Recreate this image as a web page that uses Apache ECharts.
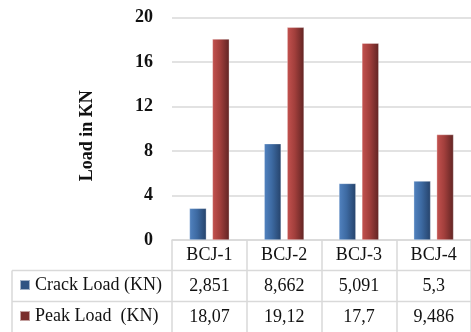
<!DOCTYPE html>
<html>
<head>
<meta charset="utf-8">
<script src="https://cdn.jsdelivr.net/npm/echarts@6/dist/echarts.min.js"></script>
<style>
  html, body { margin: 0; padding: 0; background: #fff; }
  #chart { width: 471px; height: 332px; }
</style>
</head>
<body>
<div id="chart"></div>
<script>
// Specimens and measured loads (KN)
const categories = ['BCJ-1', 'BCJ-2', 'BCJ-3', 'BCJ-4'];
const crackLoad = [2.851, 8.662, 5.091, 5.3];
const peakLoad = [18.07, 19.12, 17.7, 9.486];
const crackName = 'Crack Load (KN)';
const peakName = 'Peak Load  (KN)';
const yTicks = { min: 0, max: 20, interval: 4 };

// Decimal comma, as printed in the data table
const fmt = v => String(v).replace('.', ',');

const FONT = '"Liberation Serif", "Times New Roman", serif';
const LINE = '#d9d9d9';
const GRID = { left: 172, right: -10, top: 17.5, bottom: 92 };

function grad(c0, c1, c2) {
  return new echarts.graphic.LinearGradient(0, 0, 1, 0, [
    { offset: 0, color: c0 },
    { offset: 0.45, color: c1 },
    { offset: 1, color: c2 }
  ]);
}

const tableAxis = (data, offset) => ({
  type: 'category',
  position: 'bottom',
  gridIndex: 0,
  offset: offset,
  data: data,
  axisLine: { show: false },
  axisTick: { show: true, length: 31, lineStyle: { color: LINE, width: 1.5 } },
  axisLabel: {
    margin: 15.5, verticalAlign: 'middle',
    fontFamily: FONT, fontSize: 18, color: '#111'
  }
});

// one legend entry per table row
const legendRow = (name, color, top) => ({
  left: 19, top: top,
  itemWidth: 10, itemHeight: 10,
  itemTextGap: 5,
  icon: 'rect',
  padding: 0,
  textStyle: { fontFamily: FONT, fontSize: 18, color: '#111' },
  data: [{ name: name, itemStyle: { color: color } }]
});

const chart = echarts.init(document.getElementById('chart'), null, { renderer: 'canvas' });

const option = {
  backgroundColor: '#fff',
  animation: false,
  grid: GRID,
  legend: [
    legendRow(crackName, '#2f5383', 276),
    legendRow(peakName, '#7a2e2c', 307)
  ],
  xAxis: [
    {
      type: 'category',
      position: 'bottom',
      data: categories,
      axisLine: { show: true, lineStyle: { color: LINE, width: 1.5 } },
      axisTick: { show: true, length: 30, lineStyle: { color: LINE, width: 1.5 } },
      axisLabel: {
        margin: 15, verticalAlign: 'middle',
        fontFamily: FONT, fontSize: 18, color: '#111'
      }
    },
    tableAxis(crackLoad.map(fmt), 30.5),
    tableAxis(peakLoad.map(fmt), 61.5)
  ],
  yAxis: {
    type: 'value',
    min: yTicks.min, max: yTicks.max, interval: yTicks.interval,
    name: 'Load in KN',
    nameLocation: 'middle',
    nameRotate: 90,
    nameGap: 76,
    nameTextStyle: {
      fontFamily: FONT, fontSize: 18, fontWeight: 'bold', color: '#111',
      padding: [0, 14, 0, 0]
    },
    axisLine: { show: false },
    axisTick: { show: false },
    axisLabel: { margin: 19, fontFamily: FONT, fontSize: 18, fontWeight: 'bold', color: '#111' },
    splitLine: { lineStyle: { color: LINE, width: 1.5 } }
  },
  series: [
    {
      name: crackName,
      type: 'bar',
      xAxisIndex: 0,
      data: crackLoad,
      barWidth: 17,
      barGap: '35%',
      itemStyle: {
        color: grad('#5283c0', '#3d6aa2', '#25426a'),
        borderColor: 'rgba(255,255,255,0.55)', borderWidth: 0.6
      }
    },
    {
      name: peakName,
      type: 'bar',
      xAxisIndex: 0,
      data: peakLoad,
      barWidth: 17,
      itemStyle: {
        color: grad('#c4524f', '#a23f3c', '#602423'),
        borderColor: 'rgba(255,255,255,0.55)', borderWidth: 0.6
      }
    }
  ],
  graphic: [
    // left part of the data table (legend column frame)
    { type: 'line', shape: { x1: 12, y1: 270.5, x2: 471, y2: 270.5 }, style: { stroke: LINE, lineWidth: 1.5 } },
    { type: 'line', shape: { x1: 12, y1: 301.5, x2: 471, y2: 301.5 }, style: { stroke: LINE, lineWidth: 1.5 } },
    { type: 'line', shape: { x1: 12, y1: 270.5, x2: 12, y2: 332 }, style: { stroke: LINE, lineWidth: 1.5 } }
  ]
};

chart.setOption(option);
</script>
</body>
</html>
